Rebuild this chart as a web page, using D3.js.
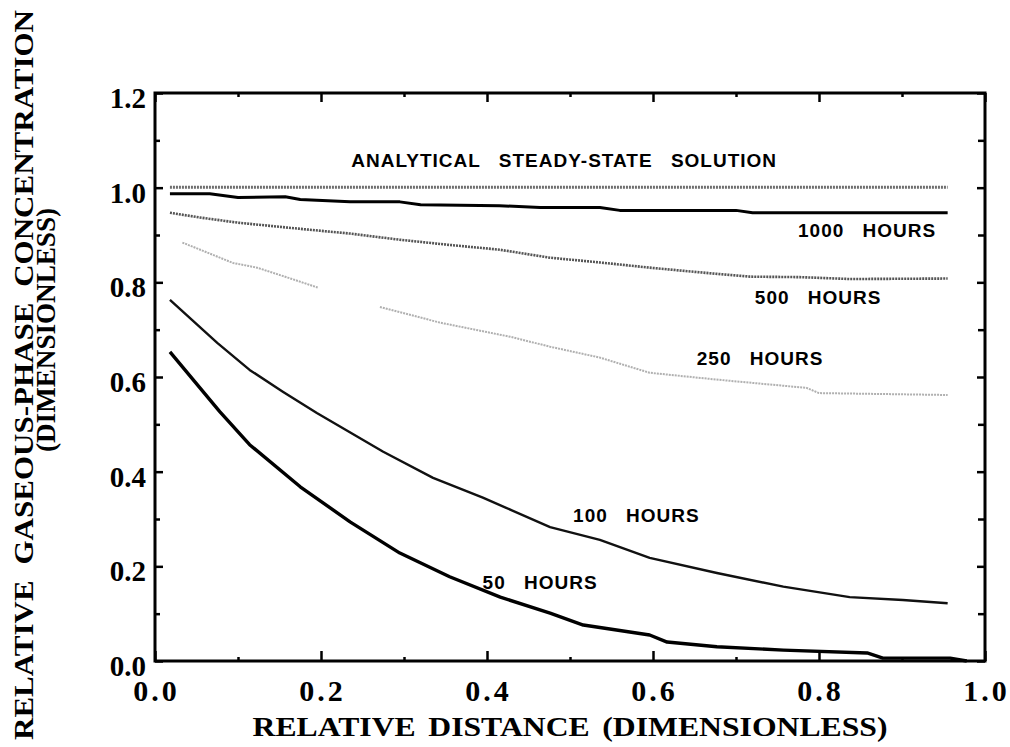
<!DOCTYPE html>
<html>
<head>
<meta charset="utf-8">
<script src="https://cdn.jsdelivr.net/npm/d3@7"></script>
<style>
  body { margin: 0; background: #fff; }
  svg { display: block; }
</style>
</head>
<body>
<div id="chart"></div>
<script>
// ---- data ----
const xTicks = [0, 0.2, 0.4, 0.6, 0.8, 1.0];
const yTicks = [0, 0.2, 0.4, 0.6, 0.8, 1.0, 1.2];

const steadyX = [0.018, 0.955];
const steadyY = [1.001, 1.001];

const h1000X = [0.018, 0.066, 0.10, 0.157, 0.175, 0.235, 0.295, 0.32, 0.415, 0.464, 0.536, 0.56, 0.657, 0.70, 0.72, 0.955];
const h1000Y = [0.987, 0.987, 0.979, 0.981, 0.975, 0.970, 0.970, 0.964, 0.962, 0.958, 0.958, 0.952, 0.952, 0.952, 0.947, 0.947];

const h500X = [0.018, 0.054, 0.10, 0.175, 0.235, 0.295, 0.355, 0.415, 0.476, 0.536, 0.596, 0.657, 0.717, 0.777, 0.837, 0.955];
const h500Y = [0.947, 0.937, 0.926, 0.913, 0.903, 0.890, 0.879, 0.869, 0.852, 0.842, 0.831, 0.821, 0.812, 0.811, 0.807, 0.808];

// 250 h curve is broken between ~0.2 and ~0.27
const h250aX = [0.033, 0.094, 0.123, 0.160, 0.196];
const h250aY = [0.884, 0.841, 0.831, 0.810, 0.789];
const h250bX = [0.271, 0.343, 0.428, 0.476, 0.536, 0.596, 0.657, 0.68, 0.785, 0.80, 0.955];
const h250bY = [0.748, 0.715, 0.685, 0.664, 0.641, 0.609, 0.598, 0.594, 0.577, 0.566, 0.562];

const h100X = [0.018, 0.075, 0.114, 0.154, 0.195, 0.275, 0.335, 0.395, 0.476, 0.536, 0.596, 0.677, 0.757, 0.837, 0.901, 0.955];
const h100Y = [0.763, 0.672, 0.615, 0.569, 0.524, 0.442, 0.387, 0.345, 0.283, 0.256, 0.218, 0.186, 0.157, 0.135, 0.129, 0.122];

const h50X = [0.018, 0.078, 0.114, 0.175, 0.235, 0.295, 0.355, 0.416, 0.476, 0.516, 0.596, 0.617, 0.677, 0.757, 0.858, 0.877, 0.958, 0.978];
const h50Y = [0.653, 0.527, 0.457, 0.368, 0.294, 0.228, 0.178, 0.135, 0.101, 0.076, 0.055, 0.040, 0.030, 0.023, 0.017, 0.006, 0.006, 0.0];

const labelText = ["ANALYTICAL STEADY-STATE SOLUTION", "1000 HOURS", "500 HOURS", "250 HOURS", "100 HOURS", "50 HOURS"];
const labelX = [0.493, 0.858, 0.799, 0.729, 0.580, 0.464];
const labelY = [1.059, 0.911, 0.770, 0.641, 0.309, 0.167];

// ---- layout ----
const width = 1010, height = 747;
const plotL = 155, plotR = 985, plotT = 93, plotB = 661;
const serif = "'Liberation Serif', 'Times New Roman', serif";
const sans = "'Liberation Sans', Arial, Helvetica, sans-serif";

const svg = d3.select("#chart").append("svg")
  .attr("width", width)
  .attr("height", height);

const x = d3.scaleLinear().domain([0, 1]).range([plotL, plotR]);
const y = d3.scaleLinear().domain([0, 1.2]).range([plotB, plotT]);

const line = d3.line().x(d => x(d[0])).y(d => y(d[1]));
const zip = (xs, ys) => xs.map((v, i) => [v, ys[i]]);

// curves
const series = [
  { pts: zip(steadyX, steadyY), color: "#6e6e6e", w: 3, dash: "2,1" },
  { pts: zip(h1000X, h1000Y), color: "#000", w: 3, dash: null },
  { pts: zip(h500X, h500Y), color: "#555", w: 2.6, dash: "2,1" },
  { pts: zip(h250aX, h250aY), color: "#b0b0b0", w: 2, dash: "2,1" },
  { pts: zip(h250bX, h250bY), color: "#b0b0b0", w: 2, dash: "2,1" },
  { pts: zip(h100X, h100Y), color: "#111", w: 2.4, dash: null },
  { pts: zip(h50X, h50Y), color: "#000", w: 3.4, dash: null }
];

svg.append("g").selectAll("path")
  .data(series)
  .join("path")
  .attr("d", d => line(d.pts))
  .attr("fill", "none")
  .attr("stroke", d => d.color)
  .attr("stroke-width", d => d.w)
  .attr("stroke-dasharray", d => d.dash)
  .attr("stroke-linejoin", "round");

// inward ticks on all four sides
const xMinor = d3.range(0.1, 1.0, 0.2);
const yMinor = d3.range(0.1, 1.2, 0.2);

function tickG(axisFn, translate, values, size) {
  const g = svg.append("g")
    .attr("transform", translate)
    .call(axisFn.tickValues(values).tickSize(size).tickFormat(""));
  g.select(".domain").remove();
  g.selectAll(".tick line").attr("stroke", "#000").attr("stroke-width", 2.5);
  return g;
}

tickG(d3.axisBottom(x), `translate(0,${plotB})`, xTicks, -10);
tickG(d3.axisBottom(x), `translate(0,${plotB})`, xMinor, -4);
tickG(d3.axisTop(x), `translate(0,${plotT})`, xTicks, -9);
tickG(d3.axisTop(x), `translate(0,${plotT})`, xMinor, -4);
tickG(d3.axisLeft(y), `translate(${plotL},0)`, yTicks, -8);
tickG(d3.axisLeft(y), `translate(${plotL},0)`, yMinor, -5);
tickG(d3.axisRight(y), `translate(${plotR},0)`, yTicks, -8);
tickG(d3.axisRight(y), `translate(${plotR},0)`, yMinor, -7);

// frame
svg.append("rect")
  .attr("x", plotL).attr("y", plotT)
  .attr("width", plotR - plotL).attr("height", plotB - plotT)
  .attr("fill", "none")
  .attr("stroke", "#000")
  .attr("stroke-width", 3);

// tick labels
svg.append("g").selectAll("text")
  .data(yTicks)
  .join("text")
  .attr("x", plotL - 9)
  .attr("y", d => y(d) + 15)
  .attr("text-anchor", "end")
  .attr("font-family", serif)
  .attr("font-weight", "bold")
  .attr("font-size", 29)
  .text(d => d.toFixed(1));

svg.append("g").selectAll("text")
  .data(xTicks)
  .join("text")
  .attr("x", d => x(d) + 1.5)
  .attr("y", 701)
  .attr("text-anchor", "middle")
  .attr("font-family", serif)
  .attr("font-weight", "bold")
  .attr("font-size", 30)
  .attr("letter-spacing", 3)
  .text(d => d.toFixed(1));

// axis titles
svg.append("text")
  .attr("x", 570)
  .attr("y", 736)
  .attr("text-anchor", "middle")
  .attr("font-family", serif)
  .attr("font-weight", "bold")
  .attr("font-size", 27)
  .attr("word-spacing", 4)
  .attr("textLength", 635)
  .attr("lengthAdjust", "spacingAndGlyphs")
  .text("RELATIVE  DISTANCE  (DIMENSIONLESS)");

svg.append("text")
  .attr("transform", "translate(33,375) rotate(-90)")
  .attr("text-anchor", "middle")
  .attr("font-family", serif)
  .attr("font-weight", "bold")
  .attr("font-size", 27)
  .attr("word-spacing", 7)
  .attr("textLength", 730)
  .attr("lengthAdjust", "spacingAndGlyphs")
  .text("RELATIVE  GASEOUS-PHASE  CONCENTRATION");

svg.append("text")
  .attr("transform", "translate(55,330) rotate(-90)")
  .attr("text-anchor", "middle")
  .attr("font-family", serif)
  .attr("font-weight", "bold")
  .attr("font-size", 27)
  .attr("textLength", 244)
  .attr("lengthAdjust", "spacingAndGlyphs")
  .text("(DIMENSIONLESS)");

// curve labels
svg.append("g").selectAll("text")
  .data(labelText)
  .join("text")
  .attr("x", (d, i) => x(labelX[i]))
  .attr("y", (d, i) => y(labelY[i]) + 7)
  .attr("text-anchor", "middle")
  .attr("font-family", sans)
  .attr("font-weight", "bold")
  .attr("font-size", 19)
  .attr("letter-spacing", 1)
  .attr("word-spacing", 12)
  .text(d => d);
</script>
</body>
</html>
